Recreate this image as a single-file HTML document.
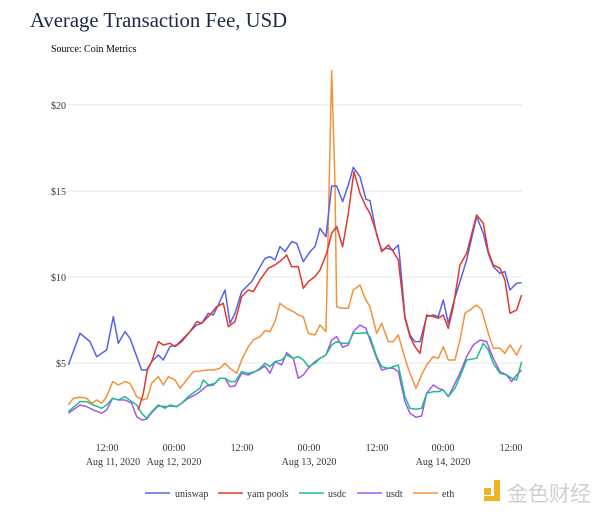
<!DOCTYPE html>
<html><head><meta charset="utf-8"><style>
body{margin:0;background:#fff;width:600px;height:514px;overflow:hidden;font-family:"Liberation Serif",serif}
</style></head><body>
<svg width="600" height="514" xmlns="http://www.w3.org/2000/svg" font-family="Liberation Serif, serif">
<text x="30" y="27" font-size="20.7" fill="#1a2a44">Average Transaction Fee, USD</text>
<text x="51" y="52" font-size="10" fill="#000">Source: Coin Metrics</text>
<g stroke="#e8e8e8" stroke-width="1">
<line x1="68" x2="522" y1="105" y2="105"/><line x1="68" x2="522" y1="191" y2="191"/>
<line x1="68" x2="522" y1="277" y2="277"/><line x1="68" x2="522" y1="363" y2="363"/>
</g>
<g font-size="10" fill="#333" text-anchor="end">
<text x="66" y="109">$20</text><text x="66" y="195">$15</text><text x="66" y="281">$10</text><text x="66" y="367">$5</text>
</g>
<g font-size="10" fill="#333" text-anchor="middle">
<text x="107" y="451">12:00</text><text x="174" y="451">00:00</text><text x="242" y="451">12:00</text>
<text x="309" y="451">00:00</text><text x="377" y="451">12:00</text><text x="443" y="451">00:00</text><text x="511" y="451">12:00</text>
<text x="113" y="465">Aug 11, 2020</text><text x="174" y="465">Aug 12, 2020</text><text x="309" y="465">Aug 13, 2020</text><text x="443" y="465">Aug 14, 2020</text>
</g>
<g transform="translate(60,60) scale(0.3333)" fill="none" stroke-width="1.5" stroke-linejoin="round">
<polyline vector-effect="non-scaling-stroke" stroke="#f5913a" points="25,1035 40,1015 60,1012 80,1015 95,1030 110,1020 125,1030 140,1010 158,965 175,975 195,965 210,970 230,1010 250,1020 262,1015 275,970 295,950 310,975 325,950 345,960 360,985 380,960 400,935 420,933 440,930 460,930 480,925 495,910 510,925 530,940 545,900 565,860 580,840 600,830 615,812 630,815 645,785 660,730 680,745 700,755 715,765 730,770 745,820 765,825 780,795 798,815 815,32 825,370 830,740 845,745 865,745 880,690 900,675 915,715 930,740 950,820 965,790 985,845 1000,845 1015,825 1035,895 1050,940 1068,985 1085,945 1100,915 1120,890 1135,895 1150,860 1165,900 1185,900 1200,840 1215,760 1230,750 1250,735 1265,750 1285,820 1300,865 1320,865 1335,880 1350,855 1370,885 1385,855"/>
<polyline vector-effect="non-scaling-stroke" stroke="#a855f0" points="25,1060 60,1035 80,1040 100,1050 125,1060 140,1050 158,1015 175,1020 195,1020 215,1030 230,1070 245,1080 260,1078 275,1058 295,1038 315,1040 330,1038 350,1040 365,1030 385,1015 405,1005 420,995 440,978 460,975 480,955 495,955 510,980 525,978 545,940 565,945 585,935 600,928 615,918 630,940 645,905 665,915 680,878 700,895 715,955 730,945 745,925 765,905 780,895 798,885 815,840 830,830 848,862 865,855 880,815 900,795 918,805 930,840 950,895 965,930 985,925 1000,925 1015,935 1035,1025 1050,1060 1068,1072 1085,1068 1100,1000 1120,975 1135,985 1150,990 1165,1010 1185,970 1200,940 1220,890 1240,855 1260,840 1280,845 1300,895 1320,935 1340,945 1355,965 1370,945 1385,930"/>
<polyline vector-effect="non-scaling-stroke" stroke="#1ac08a" points="25,1055 60,1025 80,1025 100,1035 125,1045 140,1035 158,1015 175,1020 195,1010 215,1025 230,1035 245,1060 260,1075 275,1055 295,1035 315,1045 330,1035 350,1040 365,1030 385,1010 405,995 420,985 430,960 445,975 465,970 480,955 495,955 510,965 525,965 545,935 565,940 585,935 600,925 615,910 630,920 645,905 665,900 680,885 700,895 715,890 730,900 745,920 765,910 780,895 798,885 815,855 830,845 848,850 865,850 880,820 900,820 918,818 930,830 950,890 965,920 985,925 1000,920 1015,915 1035,1010 1050,1045 1068,1048 1085,1045 1100,1000 1120,995 1135,995 1150,990 1165,1010 1185,985 1200,950 1220,900 1250,895 1270,850 1285,870 1300,910 1320,940 1340,945 1355,955 1370,960 1385,905"/>
<polyline vector-effect="non-scaling-stroke" stroke="#5562e8" points="25,915 60,820 90,845 110,890 140,870 160,770 175,850 195,815 210,835 245,930 260,930 275,905 295,885 310,900 330,860 350,855 380,825 410,795 425,790 445,760 460,765 475,735 495,690 510,790 525,760 545,695 575,665 595,630 615,595 630,590 645,600 660,560 675,575 695,545 710,550 730,605 750,575 765,560 780,505 798,530 815,378 830,378 848,425 865,375 880,322 900,350 918,418 930,422 950,525 965,570 980,565 1000,570 1015,555 1020,600 1035,770 1050,825 1065,845 1080,845 1100,770 1120,765 1135,770 1150,720 1165,790 1180,730 1200,665 1220,600 1250,470 1270,520 1285,580 1300,620 1320,640 1335,635 1350,690 1370,670 1385,668"/>
<polyline vector-effect="non-scaling-stroke" stroke="#e0382a" points="235,1050 250,1000 262,930 275,905 295,845 310,855 330,850 345,860 365,845 390,815 410,785 425,790 450,765 470,740 490,730 505,800 525,785 545,710 565,690 580,695 600,660 625,625 645,615 665,600 680,585 695,620 715,620 730,685 745,665 765,650 780,630 800,580 815,520 830,500 848,560 865,460 882,335 900,400 918,440 930,460 950,520 965,575 985,555 1000,575 1015,600 1035,775 1050,830 1065,860 1080,880 1100,765 1120,770 1135,775 1150,765 1165,805 1180,740 1200,615 1220,580 1250,465 1270,490 1285,575 1300,615 1320,625 1335,660 1350,760 1370,750 1385,705"/>
</g>
<g stroke-width="1.5">
<line x1="145" x2="170" y1="493" y2="493" stroke="#5562e8"/>
<line x1="218" x2="243" y1="493" y2="493" stroke="#e0382a"/>
<line x1="299" x2="324" y1="493" y2="493" stroke="#1ac08a"/>
<line x1="357" x2="382" y1="493" y2="493" stroke="#a855f0"/>
<line x1="413" x2="438" y1="493" y2="493" stroke="#f5913a"/>
</g>
<g font-size="10" fill="#333">
<text x="175" y="497">uniswap</text><text x="247" y="497">yam pools</text><text x="328" y="497">usdc</text><text x="386" y="497">usdt</text><text x="442" y="497">eth</text>
</g>
<rect x="484" y="488" width="7" height="7" fill="#f0b323"/>
<path d="M494 480 h6 v21 h-16 v-5 h10 z" fill="#f0b323"/>
<text x="507" y="501" font-size="21" fill="#d0d0d0" font-family="Liberation Sans, Noto Sans CJK SC, sans-serif">金色财经</text>
</svg>
</body></html>
